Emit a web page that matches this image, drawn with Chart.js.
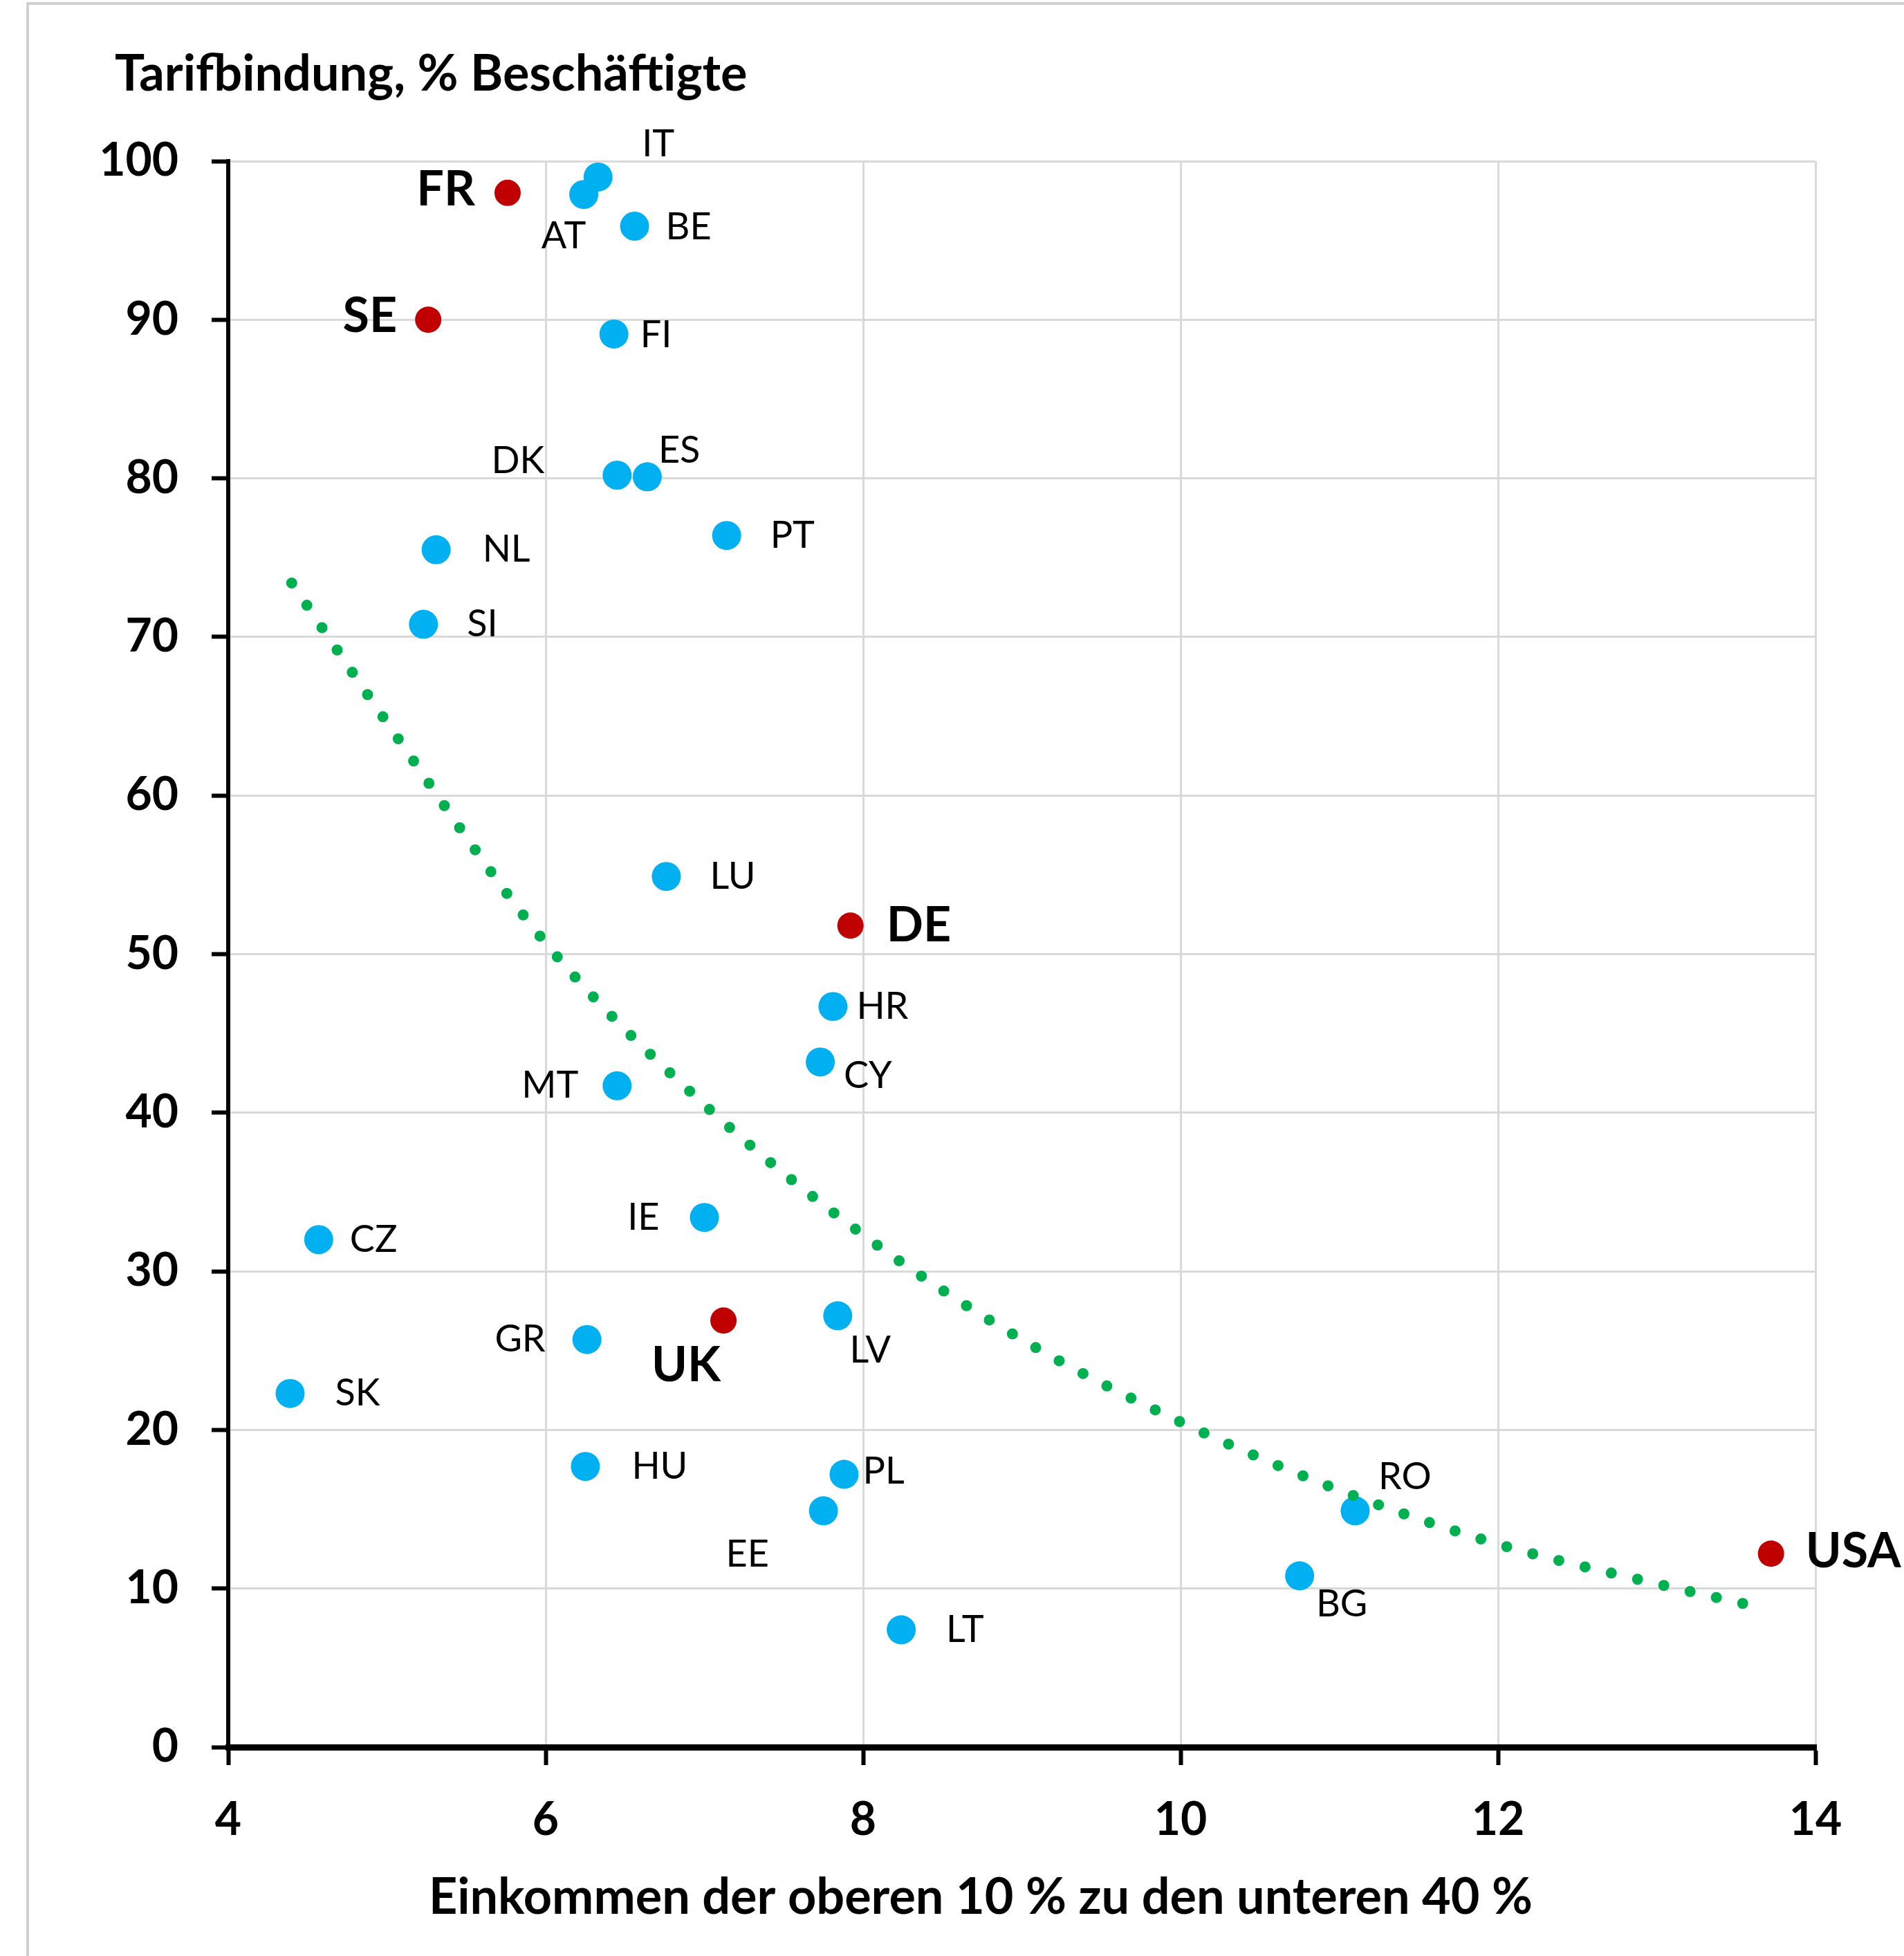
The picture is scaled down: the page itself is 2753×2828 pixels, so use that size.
<!DOCTYPE html>
<html>
<head>
<meta charset="utf-8">
<script src="https://cdn.jsdelivr.net/npm/chart.js@4"></script>
<style>
  body { margin: 0; background: #fff; }
  canvas { display: block; }
</style>
</head>
<body>
<canvas id="chart" width="2753" height="2828"></canvas>
<script>
// Tarifbindung vs. Einkommensungleichheit
var countries = ['FR', 'SE', 'IT', 'AT', 'BE', 'FI', 'DK', 'ES', 'PT', 'NL', 'SI', 'LU', 'DE', 'HR', 'CY', 'MT',
    'IE', 'CZ', 'UK', 'LV', 'GR', 'SK', 'HU', 'PL', 'EE', 'LT', 'RO', 'BG', 'USA'];
var incomeRatio = [5.76, 5.26, 6.33, 6.24, 6.56, 6.43, 6.45, 6.64, 7.14, 5.31, 5.23, 6.76, 7.92, 7.81, 7.73, 6.45,
    7.00, 4.57, 7.12, 7.84, 6.26, 4.39, 6.25, 7.88, 7.75, 8.24, 11.10, 10.75, 13.72];
var coverage = [98.0, 90.0, 99.0, 97.9, 95.9, 89.1, 80.2, 80.1, 76.4, 75.5, 70.8, 54.9, 51.8, 46.7, 43.2, 41.7,
    33.4, 32.0, 26.9, 27.2, 25.7, 22.3, 17.7, 17.2, 14.9, 7.4, 14.9, 10.8, 12.2];
var highlighted = ['FR', 'SE', 'DE', 'UK', 'USA'];

// Trendlinie
var trendX = [4.4, 5, 6, 7, 8, 9, 10, 11, 12, 13, 13.7];
var trendY = [73.4, 64.6, 50.7, 40.5, 32.3, 25.7, 20.5, 16.2, 12.8, 10.3, 8.7];

var xTicks = [4, 6, 8, 10, 12, 14];
var yTicks = [0, 10, 20, 30, 40, 50, 60, 70, 80, 90, 100];

var yTitle = 'Tarifbindung, % Beschäftigte';
var xTitle = 'Einkommen der oberen 10 % zu den unteren 40 %';

// label placement around each dot
var labelPos = {
    FR: { dx: -47, dy: -4, align: 'right' },
    SE: { dx: -45, dy: -5, align: 'right' },
    IT: { dx: 87, dy: -47, align: 'center' },
    AT: { dx: -29, dy: 60, align: 'center' },
    BE: { dx: 45, dy: 2, align: 'left' },
    FI: { dx: 38, dy: 2, align: 'left' },
    DK: { dx: -105, dy: -20, align: 'right' },
    ES: { dx: 16, dy: -38, align: 'left' },
    PT: { dx: 63, dy: 0, align: 'left' },
    NL: { dx: 67, dy: 0, align: 'left' },
    SI: { dx: 63, dy: 0, align: 'left' },
    LU: { dx: 63, dy: 0, align: 'left' },
    DE: { dx: 52, dy: 0, align: 'left' },
    HR: { dx: 34, dy: 0, align: 'left' },
    CY: { dx: 34, dy: 20, align: 'left' },
    MT: { dx: -56, dy: 0, align: 'right' },
    IE: { dx: -65, dy: 0, align: 'right' },
    CZ: { dx: 45, dy: 0, align: 'left' },
    UK: { dx: -54, dy: 65, align: 'center' },
    LV: { dx: 47, dy: 50, align: 'center' },
    GR: { dx: -60, dy: 0, align: 'right' },
    SK: { dx: 65, dy: 0, align: 'left' },
    HU: { dx: 67, dy: 0, align: 'left' },
    PL: { dx: 27, dy: -4, align: 'left' },
    EE: { dx: -110, dy: 63, align: 'center' },
    LT: { dx: 65, dy: 0, align: 'left' },
    RO: { dx: 72, dy: -49, align: 'center' },
    BG: { dx: 61, dy: 41, align: 'center' },
    USA: { dx: 50, dy: -3, align: 'left' }
};

var FONT = 'Lato, "Open Sans", sans-serif';

var bluePts = [], redPts = [];
countries.forEach(function (c, i) {
    var p = { x: incomeRatio[i], y: coverage[i], c: c };
    if (highlighted.indexOf(c) >= 0) redPts.push(p); else bluePts.push(p);
});
var trendPts = trendX.map(function (x, i) { return { x: x, y: trendY[i] }; });

var extras = {
    id: 'extras',
    beforeDraw: function (chart) {
        var ctx = chart.ctx;
        ctx.save();
        ctx.fillStyle = '#fff';
        ctx.fillRect(0, 0, chart.width, chart.height);
        // outer frame
        ctx.strokeStyle = '#d0d0d0';
        ctx.lineWidth = 4;
        ctx.beginPath();
        ctx.moveTo(40, chart.height);
        ctx.lineTo(40, 5);
        ctx.lineTo(chart.width, 5);
        ctx.stroke();
        ctx.restore();
    },
    afterDraw: function (chart) {
        var ctx = chart.ctx;
        var xs = chart.scales.x, ys = chart.scales.y;
        ctx.save();
        ctx.fillStyle = '#000';
        ctx.textBaseline = 'middle';
        countries.forEach(function (c, i) {
            var lp = labelPos[c];
            var bold = highlighted.indexOf(c) >= 0;
            ctx.font = (bold ? 'bold 70px ' : '54px ') + FONT;
            ctx.textAlign = lp.align;
            ctx.fillText(c, xs.getPixelForValue(incomeRatio[i]) + lp.dx, ys.getPixelForValue(coverage[i]) + lp.dy);
        });
        ctx.font = 'bold 72px ' + FONT;
        ctx.textAlign = 'left';
        ctx.fillText(yTitle, 166, 108);
        ctx.textAlign = 'center';
        ctx.fillText(xTitle, 1418, 2744);
        ctx.restore();
    }
};

new Chart(document.getElementById('chart').getContext('2d'), {
    type: 'scatter',
    data: {
        datasets: [
            {
                type: 'line',
                data: trendPts,
                borderColor: '#00B050',
                borderWidth: 16,
                borderDash: [0, 39],
                borderCapStyle: 'round',
                cubicInterpolationMode: 'monotone',
                pointRadius: 0,
                fill: false,
                order: 0
            },
            {
                data: bluePts,
                backgroundColor: '#00B0F0',
                borderWidth: 0,
                pointRadius: 21,
                order: 1
            },
            {
                data: redPts,
                backgroundColor: '#C00000',
                borderWidth: 0,
                pointRadius: 19,
                order: 1
            }
        ]
    },
    options: {
        responsive: false,
        devicePixelRatio: 1,
        animation: false,
        layout: { padding: { top: 233, right: 128, left: 0, bottom: 0 } },
        plugins: {
            legend: { display: false },
            tooltip: { enabled: false }
        },
        scales: {
            x: {
                type: 'linear',
                min: 4,
                max: 14,
                afterBuildTicks: function (s) { s.ticks = xTicks.map(function (v) { return { value: v }; }); },
                afterFit: function (s) { s.height = 302; },
                border: { color: '#000', width: 9 },
                grid: { color: '#d9d9d9', lineWidth: 3, tickColor: '#000', tickWidth: 6, tickLength: 26 },
                ticks: { color: '#000', padding: 40, maxRotation: 0, font: { family: FONT, size: 66, weight: 'bold' } }
            },
            y: {
                min: 0,
                max: 100,
                afterBuildTicks: function (s) { s.ticks = yTicks.map(function (v) { return { value: v }; }); },
                afterFit: function (s) { s.width = 330; },
                border: { color: '#000', width: 6 },
                grid: { color: '#d9d9d9', lineWidth: 3, tickColor: '#000', tickWidth: 6, tickLength: 24 },
                ticks: { color: '#000', padding: 48, font: { family: FONT, size: 66, weight: 'bold' } }
            }
        }
    },
    plugins: [extras]
});
</script>
</body>
</html>
